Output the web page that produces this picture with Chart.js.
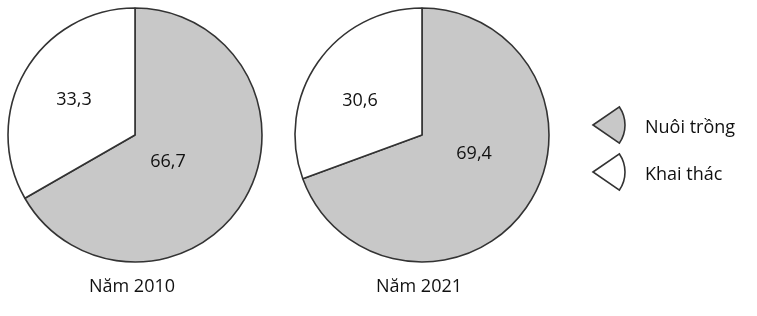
<!DOCTYPE html>
<html>
<head>
<meta charset="utf-8">
<script src="https://cdn.jsdelivr.net/npm/chart.js@4.4.0/dist/chart.umd.min.js"></script>
<style>
  body { margin: 0; background: #fff; width: 757px; height: 316px; overflow: hidden; position: relative; }
  canvas { position: absolute; top: 0; }
</style>
</head>
<body>
<canvas id="pie2010" width="270" height="316" style="left:0"></canvas>
<canvas id="pie2021" width="467" height="316" style="left:290px"></canvas>
<script>
// data (%)
const categories = ["Nuôi trồng", "Khai thác"];
const values2010 = [66.7, 33.3];
const values2021 = [69.4, 30.6];
const years = ["Năm 2010", "Năm 2021"];

const FONT = '500 18px "Open Sans", sans-serif';
const TEXT = "#111111";
const EDGE = "#333333";
const fills = ["#c8c8c8", "#ffffff"];

const fmt = (v) => v.toFixed(1).replace(".", ",");

// value labels + year caption, drawn from the arcs themselves
const pieText = {
  id: "pieText",
  afterDatasetsDraw(chart, args, opts) {
    const ctx = chart.ctx;
    const meta = chart.getDatasetMeta(0);
    const values = chart.data.datasets[0].data;
    ctx.save();
    ctx.fillStyle = TEXT;
    ctx.font = FONT;
    ctx.textAlign = "center";
    ctx.textBaseline = "middle";
    meta.data.forEach((arc, i) => {
      const p = arc.tooltipPosition();
      const off = opts.offsets[i] || [0, 0];
      ctx.fillText(fmt(values[i]), p.x + off[0], p.y + off[1]);
    });
    const c = meta.data[0];
    ctx.fillText(opts.caption, c.x - 3, c.y + c.outerRadius + 25);
    ctx.restore();
  },
};

// legend with little wedge symbols, to the right of the second pie
const wedgeLegend = {
  id: "wedgeLegend",
  afterDraw(chart, args, opts) {
    if (!opts.show) return;
    const ctx = chart.ctx;
    const ds = chart.data.datasets[0];
    ctx.save();
    ctx.font = FONT;
    ctx.textBaseline = "middle";
    chart.data.labels.forEach((label, i) => {
      const y = opts.top + i * opts.gap;
      const x = opts.left;
      ctx.beginPath();
      ctx.moveTo(x, y);
      ctx.arc(x, y, 32, -0.6, 0.6);
      ctx.closePath();
      ctx.fillStyle = ds.backgroundColor[i];
      ctx.fill();
      ctx.lineWidth = 1.6;
      ctx.strokeStyle = EDGE;
      ctx.stroke();
      ctx.fillStyle = TEXT;
      ctx.fillText(label, x + 52, y + 3);
    });
    ctx.restore();
  },
};

function makePie(id, values, caption, offsets, padRight, legend) {
  return new Chart(document.getElementById(id), {
    type: "pie",
    data: {
      labels: categories,
      datasets: [{
        data: values,
        backgroundColor: fills,
        borderColor: EDGE,
        borderWidth: 1.6,
        radius: 127,
      }],
    },
    options: {
      responsive: false,
      animation: false,
      events: [],
      layout: { padding: { top: 0, left: 0, right: padRight, bottom: 46 } },
      plugins: {
        legend: { display: false },
        tooltip: { enabled: false },
        pieText: { caption: caption, offsets: offsets },
        wedgeLegend: legend,
      },
    },
    plugins: [pieText, wedgeLegend],
  });
}

makePie("pie2010", values2010, years[0], [[-22, -5], [-6, -3]], 0, { show: false });
makePie("pie2021", values2021, years[1], [[0, -17], [-10, 2]], 203,
  { show: true, left: 303, top: 125, gap: 47 });
</script>
</body>
</html>
